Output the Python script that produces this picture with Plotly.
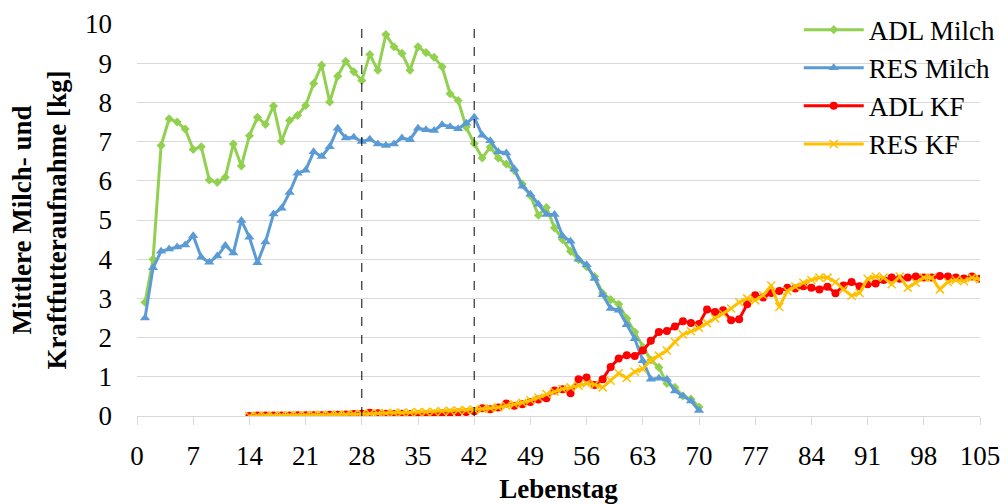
import plotly.graph_objects as go

# ---------------- data ----------------
milk_days = list(range(1, 71))
adl_milch = [2.9, 4.0, 6.9, 7.58, 7.5, 7.32, 6.8, 6.87, 6.02, 5.96,
             6.09, 6.94, 6.38, 7.15, 7.62, 7.44, 7.91, 7.01, 7.54, 7.67,
             7.92, 8.48, 8.95, 8.01, 8.67, 9.05, 8.78, 8.56, 9.22, 8.82,
             9.73, 9.42, 9.25, 8.82, 9.42, 9.27, 9.15, 8.91, 8.22, 8.05,
             7.37, 6.95, 6.58, 6.86, 6.58, 6.43, 6.26, 5.92, 5.62, 5.12,
             5.32, 4.8, 4.5, 4.2, 3.99, 3.81, 3.56, 3.13, 2.97, 2.85,
             2.49, 2.14, 1.76, 1.43, 1.24, 0.83, 0.73, 0.51, 0.43, 0.23]
res_milch = [2.5, 3.78, 4.2, 4.26, 4.31, 4.36, 4.6, 4.05, 3.92, 4.08,
             4.35, 4.16, 4.99, 4.56, 3.91, 4.44, 5.15, 5.3, 5.7, 6.19,
             6.27, 6.74, 6.62, 6.87, 7.34, 7.09, 7.11, 7.0, 7.06, 6.94,
             6.9, 6.94, 7.09, 7.05, 7.34, 7.3, 7.28, 7.43, 7.38, 7.33,
             7.47, 7.62, 7.16, 7.02, 6.74, 6.71, 6.3, 5.86, 5.66, 5.4,
             5.14, 5.14, 4.59, 4.46, 4.0, 3.86, 3.51, 3.09, 2.74, 2.7,
             2.33, 1.97, 1.41, 0.94, 0.96, 0.94, 0.64, 0.51, 0.38, 0.14]

kf_days = list(range(14, 106))
adl_kf = [0.0, 0.01, 0.01, 0.01, 0.01, 0.01, 0.02, 0.02, 0.02, 0.02,
          0.03, 0.03, 0.04, 0.05, 0.06, 0.08, 0.07, 0.06, 0.05, 0.06,
          0.05, 0.04, 0.05, 0.06, 0.07, 0.08, 0.09, 0.1, 0.12, 0.2,
          0.17, 0.22, 0.32, 0.26, 0.3, 0.36, 0.42, 0.45, 0.65, 0.68,
          0.58, 0.94, 0.98, 0.79, 0.94, 1.25, 1.47, 1.55, 1.53, 1.67,
          1.92, 2.14, 2.17, 2.28, 2.42, 2.37, 2.35, 2.72, 2.65, 2.7,
          2.44, 2.47, 2.85, 3.08, 3.02, 3.14, 3.19, 3.27, 3.25, 3.31,
          3.27, 3.23, 3.3, 3.13, 3.33, 3.42, 3.31, 3.36, 3.38, 3.47,
          3.53, 3.5, 3.53, 3.56, 3.53, 3.53, 3.57, 3.56, 3.53, 3.51,
          3.56, 3.5]
res_kf = [0.0, 0.01, 0.01, 0.01, 0.02, 0.02, 0.02, 0.02, 0.03, 0.03,
          0.03, 0.04, 0.04, 0.05, 0.05, 0.06, 0.07, 0.07, 0.08, 0.08,
          0.09, 0.1, 0.1, 0.11, 0.12, 0.13, 0.14, 0.15, 0.16, 0.18,
          0.2, 0.22, 0.26, 0.3, 0.34, 0.4, 0.47, 0.56, 0.62, 0.69,
          0.73, 0.77, 0.83, 0.8, 0.73, 0.9, 1.09, 0.97, 1.13, 1.2,
          1.43, 1.54, 1.67, 1.89, 2.08, 2.16, 2.25, 2.37, 2.49, 2.61,
          2.74, 2.9, 3.0, 2.95, 3.08, 3.33, 2.78, 3.19, 3.3, 3.4,
          3.47, 3.53, 3.53, 3.42, 3.23, 3.07, 3.14, 3.5, 3.56, 3.53,
          3.36, 3.56, 3.27, 3.4, 3.53, 3.53, 3.23, 3.42, 3.47, 3.44,
          3.53, 3.49]

x_ticks = list(range(0, 106, 7))
y_ticks = list(range(0, 11))
phase_days = [28, 42]

series_names = ["ADL Milch", "RES Milch", "ADL KF", "RES KF"]
# --------------------------------------

FONT = "Liberation Serif, Times New Roman, serif"
FS = 27

fig = go.Figure()
fig.add_trace(go.Scatter(x=milk_days, y=adl_milch, name=series_names[0], mode="lines+markers",
                         line=dict(color="#92D050", width=3),
                         marker=dict(symbol="diamond", size=7, color="#92D050")))
fig.add_trace(go.Scatter(x=milk_days, y=res_milch, name=series_names[1], mode="lines+markers",
                         line=dict(color="#5B9BD5", width=3),
                         marker=dict(symbol="triangle-up", size=9, color="#5B9BD5")))
fig.add_trace(go.Scatter(x=kf_days, y=adl_kf, name=series_names[2], mode="lines+markers",
                         line=dict(color="#FF0000", width=3),
                         marker=dict(symbol="circle", size=8, color="#FF0000")))
fig.add_trace(go.Scatter(x=kf_days, y=res_kf, name=series_names[3], mode="lines+markers",
                         line=dict(color="#FFC000", width=3),
                         marker=dict(symbol="x-thin", size=8, color="#FFC000",
                                     line=dict(color="#FFC000", width=1.5))))

for d in phase_days:
    fig.add_shape(type="line", xref="x", yref="y", x0=d, x1=d, y0=0, y1=10,
                  line=dict(color="black", width=1, dash="dash"), layer="above")

fig.update_layout(
    width=1008, height=504,
    margin=dict(l=137, r=28, t=24, b=88, autoexpand=False),
    plot_bgcolor="white", paper_bgcolor="white",
    font=dict(family=FONT, size=FS, color="black"),
    showlegend=True,
    legend=dict(x=0.785, y=1.047, xanchor="left", yanchor="top",
                bgcolor="rgba(0,0,0,0)", font=dict(family=FONT, size=FS),
                tracegroupgap=0, itemwidth=60),
)
fig.update_xaxes(range=[0, 105], tickmode="array", tickvals=x_ticks,
                 ticktext=[str(t) for t in x_ticks],
                 showgrid=False, showline=True, linecolor="#d9d9d9", linewidth=1,
                 ticks="outside", ticklen=8, tickcolor="#d9d9d9",
                 ticklabelstandoff=8, automargin=False,
                 tickfont=dict(family=FONT, size=FS),
                 title=dict(text="<b>Lebenstag</b>", font=dict(family=FONT, size=FS), standoff=10),
                 zeroline=False)
fig.update_yaxes(range=[0, 10], tickmode="array", tickvals=y_ticks,
                 showgrid=True, gridcolor="#d9d9d9", gridwidth=1,
                 showline=False, zeroline=False, automargin=False,
                 ticks="", ticklabelstandoff=24,
                 tickfont=dict(family=FONT, size=FS),
                 title=dict(text="<b>Mittlere Milch- und<br>Kraftfutteraufnahme [kg]</b>",
                            font=dict(family=FONT, size=FS), standoff=10))

fig.write_html("out.html")
